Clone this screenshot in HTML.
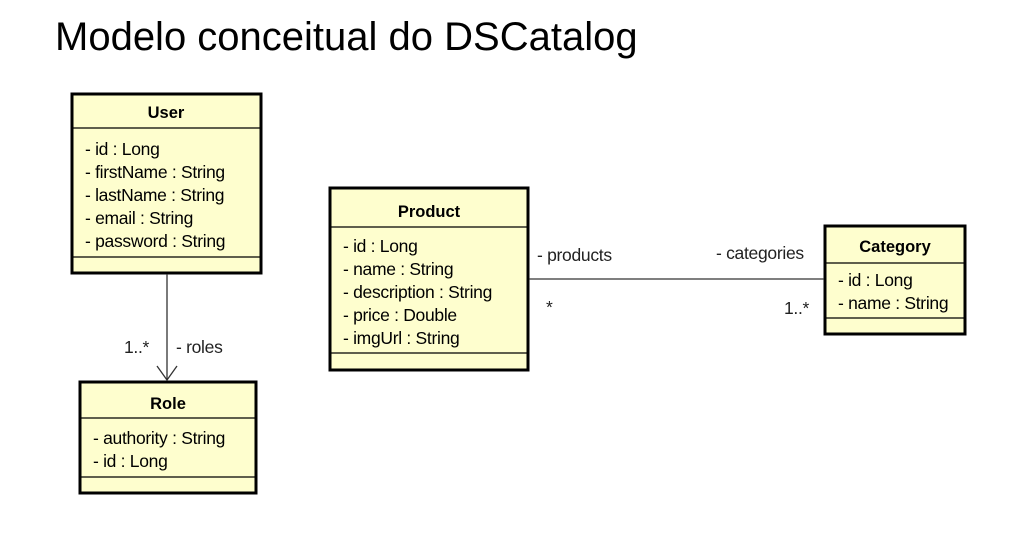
<!DOCTYPE html>
<html><head><meta charset="utf-8"><style>
body{margin:0;background:#fff;width:1031px;height:533px;overflow:hidden;font-family:"Liberation Sans",sans-serif;}
</style></head><body>
<svg width="1031" height="533" xmlns="http://www.w3.org/2000/svg" font-family="Liberation Sans, sans-serif">
<text x="55" y="50" font-size="40" fill="#000">Modelo conceitual do DSCatalog</text>
<g fill="#fefece" stroke="#000" stroke-width="3">
<rect x="72" y="94" width="189" height="179"/>
<rect x="80" y="382" width="176" height="111"/>
<rect x="330" y="188" width="198" height="182"/>
<rect x="825" y="226" width="140" height="108"/>
</g>
<g stroke="#000" stroke-width="1.2">
<line x1="72" y1="128" x2="261" y2="128"/><line x1="72" y1="257" x2="261" y2="257"/>
<line x1="80" y1="418" x2="256" y2="418"/><line x1="80" y1="477" x2="256" y2="477"/>
<line x1="330" y1="227" x2="528" y2="227"/><line x1="330" y1="353" x2="528" y2="353"/>
<line x1="825" y1="263" x2="965" y2="263"/><line x1="825" y1="318" x2="965" y2="318"/>
</g>
<g stroke="#333" stroke-width="1.3" fill="none">
<line x1="167" y1="274" x2="167" y2="380"/>
<polyline points="157,366 167,380 177,366"/>
<line x1="529" y1="279" x2="824" y2="279"/>
</g>
<g font-size="16.5" font-weight="bold" text-anchor="middle">
<text x="166" y="118">User</text><text x="168" y="409">Role</text>
<text x="429" y="217">Product</text><text x="895" y="252">Category</text>
</g>
<g font-size="17.5" fill="#000" letter-spacing="-0.3">
<text x="85" y="155">- id : Long</text>
<text x="85" y="178">- firstName : String</text>
<text x="85" y="201">- lastName : String</text>
<text x="85" y="224">- email : String</text>
<text x="85" y="247">- password : String</text>
<text x="93" y="444">- authority : String</text>
<text x="93" y="467">- id : Long</text>
<text x="343" y="252">- id : Long</text>
<text x="343" y="275">- name : String</text>
<text x="343" y="298">- description : String</text>
<text x="343" y="321">- price : Double</text>
<text x="343" y="344">- imgUrl : String</text>
<text x="838" y="286">- id : Long</text>
<text x="838" y="309">- name : String</text>
</g>
<g font-size="17.5" fill="#222" letter-spacing="-0.3">
<text x="124" y="353">1..*</text><text x="176" y="353">- roles</text>
<text x="537" y="261">- products</text><text x="546" y="313">*</text>
<text x="716" y="259">- categories</text><text x="784" y="314">1..*</text>
</g>
</svg>
</body></html>
